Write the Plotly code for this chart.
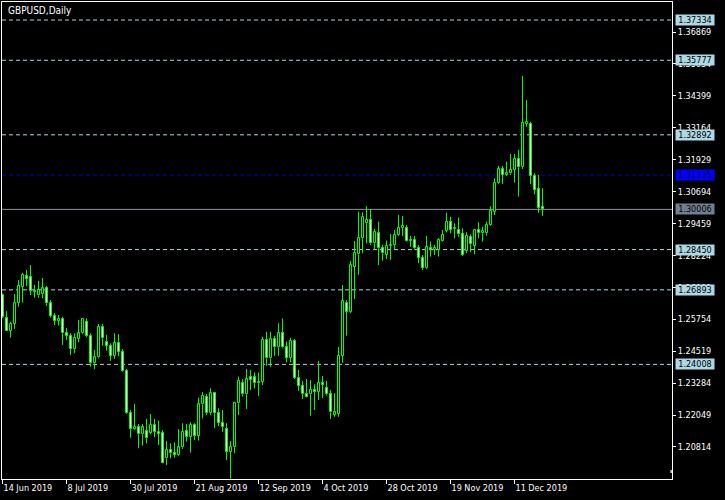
import pandas as pd
import plotly.graph_objects as go

# ---------------- data ----------------
DATES = pd.bdate_range("2019-06-14", "2019-12-20")

OPEN = [1.2668, 1.2579, 1.2531, 1.2557, 1.2638, 1.2700, 1.2741, 1.2738, 1.2686, 1.2668,
        1.2672, 1.2695, 1.2637, 1.2589, 1.2570, 1.2577, 1.2521, 1.2512, 1.2460, 1.2500,
        1.2521, 1.2565, 1.2512, 1.2405, 1.2428, 1.2544, 1.2489, 1.2473, 1.2434, 1.2482,
        1.2450, 1.2375, 1.2212, 1.2150, 1.2159, 1.2130, 1.2143, 1.2136, 1.2166, 1.2138,
        1.2135, 1.2037, 1.2071, 1.2057, 1.2050, 1.2080, 1.2142, 1.2121, 1.2166, 1.2124,
        1.2246, 1.2275, 1.2212, 1.2289, 1.2212, 1.2175, 1.2150, 1.2063, 1.2080, 1.2250,
        1.2328, 1.2285, 1.2351, 1.2351, 1.2328, 1.2334, 1.2495, 1.2424, 1.2498, 1.2467,
        1.2521, 1.2467, 1.2427, 1.2491, 1.2349, 1.2318, 1.2285, 1.2285, 1.2302, 1.2295,
        1.2328, 1.2309, 1.2285, 1.2205, 1.2210, 1.2433, 1.2640, 1.2605, 1.2779, 1.2827,
        1.2889, 1.2947, 1.2960, 1.2869, 1.2908, 1.2850, 1.2825, 1.2859, 1.2863, 1.2902,
        1.2928, 1.2928, 1.2880, 1.2882, 1.2852, 1.2814, 1.2773, 1.2850, 1.2844, 1.2844,
        1.2878, 1.2917, 1.2953, 1.2924, 1.2921, 1.2904, 1.2840, 1.2895, 1.2860, 1.2921,
        1.2908, 1.2908, 1.2940, 1.2992, 1.3102, 1.3156, 1.3134, 1.3140, 1.3153, 1.3196,
        1.3164, 1.3331, 1.3331, 1.3130, 1.3078, 1.3010]

HIGH = [1.2675, 1.2607, 1.2566, 1.2673, 1.2727, 1.2755, 1.2766, 1.2785, 1.2708, 1.2724,
        1.2735, 1.2704, 1.2650, 1.2599, 1.2592, 1.2585, 1.2541, 1.2521, 1.2521, 1.2573,
        1.2579, 1.2579, 1.2521, 1.2457, 1.2557, 1.2557, 1.2515, 1.2482, 1.2521, 1.2518,
        1.2460, 1.2383, 1.2224, 1.2248, 1.2170, 1.2170, 1.2190, 1.2209, 1.2190, 1.2183,
        1.2147, 1.2104, 1.2095, 1.2099, 1.2150, 1.2173, 1.2170, 1.2177, 1.2173, 1.2272,
        1.2293, 1.2286, 1.2308, 1.2294, 1.2231, 1.2224, 1.2173, 1.2104, 1.2256, 1.2353,
        1.2344, 1.2383, 1.2379, 1.2370, 1.2369, 1.2508, 1.2527, 1.2527, 1.2511, 1.2560,
        1.2579, 1.2489, 1.2504, 1.2499, 1.2379, 1.2337, 1.2344, 1.2340, 1.2324, 1.2414,
        1.2356, 1.2337, 1.2302, 1.2289, 1.2468, 1.2708, 1.2650, 1.2801, 1.2878, 1.2992,
        1.2989, 1.3013, 1.3001, 1.2925, 1.2953, 1.2863, 1.2880, 1.2905, 1.2921, 1.2979,
        1.2975, 1.2940, 1.2898, 1.2898, 1.2863, 1.2824, 1.2898, 1.2876, 1.2863, 1.2889,
        1.2921, 1.2988, 1.2972, 1.2947, 1.2969, 1.2928, 1.2912, 1.2904, 1.2925, 1.2951,
        1.2934, 1.2953, 1.3013, 1.3121, 1.3169, 1.3169, 1.3185, 1.3215, 1.3215, 1.3231,
        1.3517, 1.3424, 1.3340, 1.3140, 1.3134, 1.3082]

LOW = [1.2580, 1.2530, 1.2504, 1.2538, 1.2624, 1.2640, 1.2704, 1.2669, 1.2659, 1.2658,
       1.2657, 1.2627, 1.2582, 1.2553, 1.2551, 1.2476, 1.2495, 1.2437, 1.2444, 1.2486,
       1.2517, 1.2506, 1.2392, 1.2382, 1.2424, 1.2473, 1.2454, 1.2414, 1.2422, 1.2433,
       1.2373, 1.2209, 1.2117, 1.2147, 1.2076, 1.2086, 1.2095, 1.2131, 1.2119, 1.2089,
       1.2018, 1.2011, 1.2037, 1.2040, 1.2047, 1.2073, 1.2102, 1.2059, 1.2108, 1.2106,
       1.2192, 1.2205, 1.2205, 1.2154, 1.2162, 1.2140, 1.2031, 1.1958, 1.2057, 1.2205,
       1.2276, 1.2228, 1.2302, 1.2308, 1.2279, 1.2321, 1.2395, 1.2390, 1.2434, 1.2434,
       1.2463, 1.2409, 1.2409, 1.2344, 1.2299, 1.2267, 1.2273, 1.2202, 1.2224, 1.2263,
       1.2270, 1.2280, 1.2190, 1.2198, 1.2198, 1.2407, 1.2512, 1.2599, 1.2654, 1.2747,
       1.2831, 1.2869, 1.2863, 1.2844, 1.2785, 1.2802, 1.2808, 1.2805, 1.2846, 1.2898,
       1.2898, 1.2876, 1.2856, 1.2844, 1.2792, 1.2766, 1.2769, 1.2818, 1.2824, 1.2818,
       1.2876, 1.2912, 1.2908, 1.2889, 1.2895, 1.2820, 1.2831, 1.2835, 1.2827, 1.2889,
       1.2876, 1.2899, 1.2937, 1.2979, 1.3099, 1.3099, 1.3130, 1.3134, 1.3104, 1.3050,
       1.3157, 1.3321, 1.3099, 1.3059, 1.2988, 1.2975]

CLOSE = [1.2585, 1.2531, 1.2557, 1.2637, 1.2704, 1.2747, 1.2733, 1.2686, 1.2681, 1.2689,
         1.2695, 1.2637, 1.2589, 1.2570, 1.2577, 1.2521, 1.2512, 1.2460, 1.2504, 1.2521,
         1.2577, 1.2512, 1.2405, 1.2428, 1.2544, 1.2502, 1.2473, 1.2434, 1.2482, 1.2450,
         1.2375, 1.2212, 1.2150, 1.2159, 1.2130, 1.2157, 1.2115, 1.2166, 1.2140, 1.2133,
         1.2020, 1.2071, 1.2057, 1.2050, 1.2080, 1.2140, 1.2121, 1.2166, 1.2124, 1.2246,
         1.2280, 1.2212, 1.2289, 1.2212, 1.2175, 1.2159, 1.2063, 1.2080, 1.2250, 1.2337,
         1.2285, 1.2343, 1.2340, 1.2328, 1.2334, 1.2495, 1.2424, 1.2498, 1.2467, 1.2521,
         1.2467, 1.2427, 1.2491, 1.2349, 1.2318, 1.2285, 1.2276, 1.2302, 1.2293, 1.2328,
         1.2321, 1.2285, 1.2215, 1.2215, 1.2433, 1.2646, 1.2605, 1.2785, 1.2831, 1.2889,
         1.2972, 1.2960, 1.2869, 1.2914, 1.2850, 1.2831, 1.2859, 1.2863, 1.2902, 1.2928,
         1.2936, 1.2880, 1.2882, 1.2850, 1.2814, 1.2773, 1.2854, 1.2844, 1.2851, 1.2882,
         1.2902, 1.2953, 1.2921, 1.2928, 1.2904, 1.2824, 1.2899, 1.2866, 1.2921, 1.2908,
         1.2917, 1.2940, 1.2994, 1.3102, 1.3156, 1.3134, 1.3140, 1.3153, 1.3196, 1.3164,
         1.3334, 1.3340, 1.3130, 1.3076, 1.3007, 1.3001]

SYMBOL_TITLE = "GBPUSD,Daily"
X_TICK_LABELS = ["14 Jun 2019", "8 Jul 2019", "30 Jul 2019", "21 Aug 2019", "12 Sep 2019",
                 "4 Oct 2019", "28 Oct 2019", "19 Nov 2019", "11 Dec 2019"]
Y_TICKS = [1.20814, 1.22049, 1.23284, 1.24519, 1.25754, 1.26989, 1.28224,
           1.29459, 1.30694, 1.31929, 1.33164, 1.34399, 1.35634, 1.36869]
LEVELS = [1.37334, 1.35777, 1.32892, 1.28450, 1.26893, 1.24008]
BLUE_LEVEL = 1.31335
BID = 1.30006

# ---------------- styling ----------------
FONT = "DejaVu Sans Condensed, DejaVu Sans, sans-serif"
GREEN = "#00FF00"
LEVEL_COLOR = "#ADD8E6"
BID_LINE = "#8A959E"
BID_BOX = "#708090"

n = len(OPEN)
idx = list(range(n))
date_str = [f"{d.day} {d.strftime('%b %Y')}" for d in DATES]
x_tickvals = [date_str.index(lbl) for lbl in X_TICK_LABELS]

body_lo = [min(o, c) for o, c in zip(OPEN, CLOSE)]
body_hi = [max(o, c) for o, c in zip(OPEN, CLOSE)]
body_h = [max(h - l, 0.00008) for h, l in zip(body_hi, body_lo)]
body_fill = ["#000000" if c >= o else "#FFFFFF" for o, c in zip(OPEN, CLOSE)]

wx, wy = [], []
for i in idx:
    wx += [i, i, None, i, i, None]
    wy += [HIGH[i], body_hi[i], None, body_lo[i], LOW[i], None]

fig = go.Figure()
fig.add_trace(go.Scatter(x=wx, y=wy, mode="lines",
                         line=dict(color=GREEN, width=1), hoverinfo="skip",
                         showlegend=False))
fig.add_trace(go.Bar(x=idx, y=body_h, base=body_lo, width=0.5,
                     marker=dict(color=body_fill, line=dict(color=GREEN, width=1)),
                     showlegend=False, hoverinfo="skip"))

shapes = []
for lv in LEVELS:
    shapes.append(dict(type="line", xref="paper", x0=0, x1=1, yref="y", y0=lv, y1=lv,
                       line=dict(color=LEVEL_COLOR, width=1, dash="4px,3px"), layer="below"))
shapes.append(dict(type="line", xref="paper", x0=0, x1=1, yref="y", y0=BLUE_LEVEL, y1=BLUE_LEVEL,
                   line=dict(color="#0000CD", width=1, dash="4px,3px"), layer="below"))
shapes.append(dict(type="line", xref="paper", x0=0, x1=1, yref="y", y0=BID, y1=BID,
                   line=dict(color=BID_LINE, width=1), layer="below"))
# chart-shift marker at bottom right
shapes.append(dict(type="rect", xref="paper", yref="paper", x0=0.9975, x1=1.0,
                   y0=0.0125, y1=0.019, line=dict(width=0), fillcolor="#C0C0C0"))


def price_label(value, bg, fg):
    return dict(xref="paper", x=1, xanchor="left", xshift=3, yref="y", y=value,
                yanchor="middle", text=f"{value:.5f}", showarrow=False,
                bgcolor=bg, borderpad=0, width=38, height=10, align="center",
                font=dict(family=FONT, size=9, color=fg))


annotations = [price_label(lv, LEVEL_COLOR, "#000000") for lv in LEVELS]
annotations.append(price_label(BLUE_LEVEL, "#0000FF", "#000060"))
annotations.append(price_label(BID, BID_BOX, "#000000"))
annotations.append(dict(xref="paper", x=0, xanchor="left", xshift=4, yref="paper", y=1,
                        yanchor="top", yshift=-1, text=SYMBOL_TITLE, showarrow=False,
                        font=dict(family=FONT, size=10, color="#FFFFFF")))

fig.update_layout(
    width=725, height=500,
    margin=dict(l=2, r=53, t=2, b=21, autoexpand=False),
    paper_bgcolor="#000000", plot_bgcolor="#000000",
    showlegend=False, bargap=0,
    shapes=shapes, annotations=annotations,
    xaxis=dict(range=[-0.125, 167.375], showgrid=False, zeroline=False,
               showline=True, linecolor="#FFFFFF", linewidth=1, mirror=True,
               ticks="outside", ticklen=4, tickcolor="#FFFFFF", tickwidth=1,
               tickvals=x_tickvals, ticktext=X_TICK_LABELS,
               ticklabelposition="outside right", automargin=False,
               tickfont=dict(family=FONT, size=9, color="#FFFFFF")),
    yaxis=dict(range=[1.19572, 1.38032], side="right", showgrid=False, zeroline=False,
               showline=True, linecolor="#FFFFFF", linewidth=1, mirror=True,
               ticks="outside", ticklen=3, tickcolor="#FFFFFF", tickwidth=1,
               tickvals=Y_TICKS, ticktext=[f"{v:.5f}" for v in Y_TICKS], automargin=False,
               tickfont=dict(family=FONT, size=9, color="#FFFFFF")),
)

fig.write_html("out.html", config={"displayModeBar": False},
               post_script="document.body.style.margin='0px';document.body.style.overflow='hidden';")
